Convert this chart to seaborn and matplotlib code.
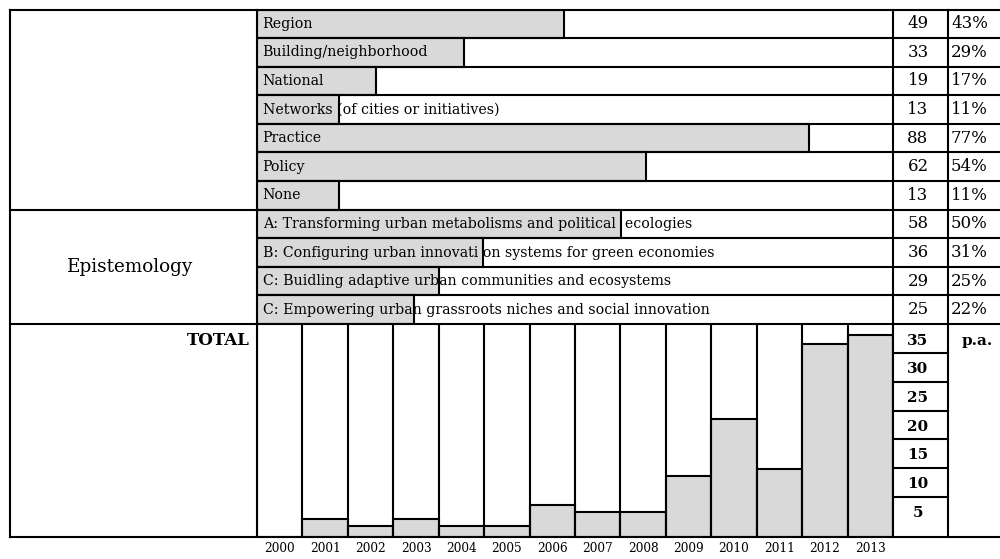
import matplotlib
matplotlib.use("Agg")
import matplotlib.pyplot as plt
import seaborn as sns

# data
row_labels = ["Region", "Building/neighborhood", "National",
              "Networks (of cities or initiatives)", "Practice", "Policy", "None",
              "A: Transforming urban metabolisms and political  ecologies",
              "B: Configuring urban innovati on systems for green economies",
              "C: Buidling adaptive urban communities and ecosystems",
              "C: Empowering urban grassroots niches and social innovation"]
row_counts = [49, 33, 19, 13, 88, 62, 13, 58, 36, 29, 25]
row_pcts = ["43%", "29%", "17%", "11%", "77%", "54%", "11%", "50%", "31%", "25%", "22%"]

years = [str(y) for y in range(2000, 2014)]
per_year = [0, 3.1, 1.9, 3.1, 1.9, 1.9, 5.5, 4.4, 4.4, 10.6, 20.5, 11.8, 33.7, 35.1]
scale_labels = [35, 30, 25, 20, 15, 10, 5]

sns.set_style("white")
plt.rcParams['font.family'] = ['DejaVu Serif']
plt.rcParams['text.color'] = 'black'
plt.rcParams['xtick.color'] = 'black'
plt.rcParams['xtick.labelcolor'] = 'black'

W, H = 1000, 559
L, C1, C2, C3, R = 10, 257, 893, 948, 1000
T, M, B = 9.5, 324, 537
ROW_H = (M - T) / 11
LW = 1.5
GREY = "#d9d9d9"

fig = plt.figure(figsize=(10, 5.59), dpi=100)

def rect(x0, y0, x1, y1):
    return [x0 / W, (H - y1) / H, (x1 - x0) / W, (y1 - y0) / H]

# upper block: horizontal bars
ax_top = fig.add_axes(rect(C1, T, C2, M))
sns.barplot(x=row_counts, y=row_labels, orient="h", width=1.0, color=GREY,
            edgecolor="black", linewidth=LW, ax=ax_top)
ax_top.set_xlim(0, 101.4)
ax_top.set_ylim(10.5, -0.5)
ax_top.set_xticks([])
ax_top.set_yticks([])
ax_top.set_xlabel("")
ax_top.set_ylabel("")
for s in ax_top.spines.values():
    s.set_visible(False)

ytr = ax_top.get_yaxis_transform()
for i, lab in enumerate(row_labels):
    ax_top.text(0.9, i, lab, va="center", ha="left", fontsize=10.2,
                color="black", zorder=5)
    ax_top.text((918 - C1) / (C2 - C1), i, str(row_counts[i]), transform=ytr,
                va="center", ha="center", fontsize=12, color="black")
    ax_top.text((951 - C1) / (C2 - C1), i, row_pcts[i], transform=ytr,
                va="center", ha="left", fontsize=12, color="black")
ax_top.text((130 - C1) / (C2 - C1), 8.5, "Epistemology", transform=ytr,
            va="center", ha="center", fontsize=13.2, color="black")

# lower block: papers per year
ax_bot = fig.add_axes(rect(C1, M, C2, B))
sns.barplot(x=years, y=per_year, width=1.0, color=GREY,
            edgecolor="black", linewidth=LW, ax=ax_bot)
ax_bot.set_xlim(-0.5, 13.5)
ax_bot.set_ylim(0, 37.1)
ax_bot.set_yticks([])
ax_bot.set_xlabel("")
ax_bot.set_ylabel("")
ax_bot.tick_params(axis="x", length=0, pad=3.5, labelsize=8.7,
                   labelcolor="black")
for s in ax_bot.spines.values():
    s.set_visible(False)
for k in range(15):
    ax_bot.axvline(k - 0.5, color="black", lw=LW)

btr = ax_bot.get_yaxis_transform()
xs = (918 - C1) / (C2 - C1)
for v in scale_labels:
    ax_bot.text(xs, v - 0.8, str(v), transform=btr, va="center", ha="center",
                fontsize=11, fontweight="bold", color="black")
for v in [32, 27, 22, 17, 12, 7]:
    ax_bot.plot([1.0, (C3 - C1) / (C2 - C1)], [v, v], transform=btr,
                color="black", lw=LW, clip_on=False)
ax_bot.text((977 - C1) / (C2 - C1), 35 - 0.8, "p.a.", transform=btr,
            va="center", ha="center", fontsize=11, fontweight="bold", color="black")
ax_bot.text((250 - C1) / (C2 - C1), 35 - 0.8, "TOTAL", transform=btr,
            va="center", ha="right", fontsize=12, fontweight="bold", color="black")

# table frame
ov = fig.add_axes([0, 0, 1, 1])
ov.set_xlim(0, W)
ov.set_ylim(H, 0)
ov.axis("off")
for y in [T, T + 7 * ROW_H, M, B]:
    ov.plot([L, R], [y, y], color="black", lw=LW, solid_capstyle="projecting")
for k in range(1, 11):
    if k != 7:
        y = T + k * ROW_H
        ov.plot([C1, R], [y, y], color="black", lw=LW)
for x in [L, C1, C2, C3]:
    ov.plot([x, x], [T, B], color="black", lw=LW, solid_capstyle="projecting")

fig.savefig("out.png", dpi=100)
